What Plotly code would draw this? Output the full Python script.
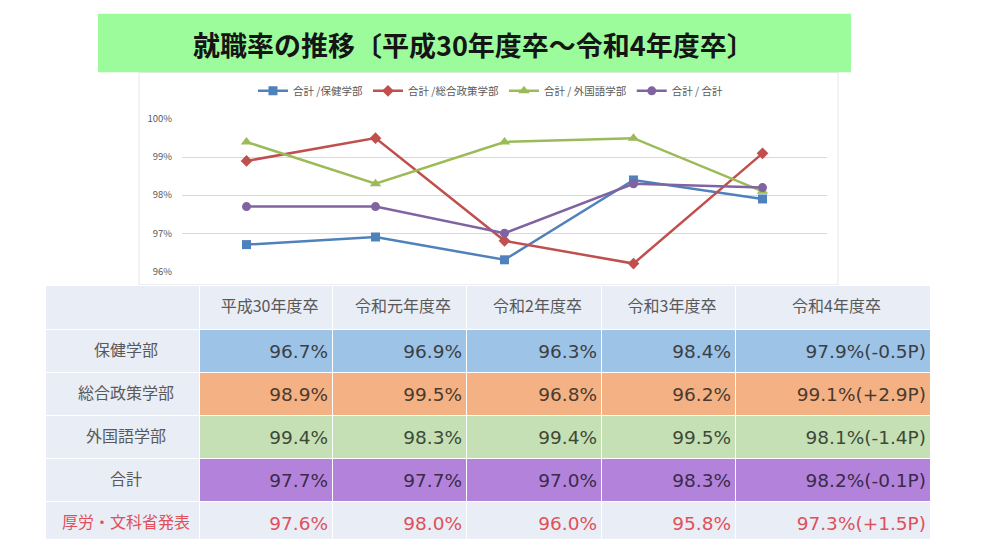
import plotly.graph_objects as go

W, H = 991, 556

years = ["平成30年度卒", "令和元年度卒", "令和2年度卒", "令和3年度卒", "令和4年度卒"]
hoken = [96.7, 96.9, 96.3, 98.4, 97.9]
sogo = [98.9, 99.5, 96.8, 96.2, 99.1]
gaikoku = [99.4, 98.3, 99.4, 99.5, 98.1]
gokei = [97.7, 97.7, 97.0, 98.3, 98.2]
kourou = [97.6, 98.0, 96.0, 95.8, 97.3]
diffs = ["-0.5P", "+2.9P", "-1.4P", "-0.1P", "+1.5P"]

row_labels = ["保健学部", "総合政策学部", "外国語学部", "合計", "厚労・文科省発表"]
legend_names = ["合計 /保健学部", "合計 /総合政策学部", "合計 / 外国語学部", "合計 / 合計"]
y_ticks = [96, 97, 98, 99, 100]
title = "就職率の推移〔平成30年度卒～令和4年度卒〕"

line_colors = ["#4F81BD", "#C0504D", "#9BBB59", "#8064A2"]
symbols = ["square", "diamond", "triangle-up", "circle"]
marker_sizes = [9, 9, 10, 9]
row_fills = ["#9DC3E6", "#F4B183", "#C5E0B4", "#B383DB", "#E9EDF6"]
row_text = ["#3a3f47", "#4a3a30", "#3d4a38", "#3b2a4a", "#E0505A"]
bg = "#E9EDF6"

JP = "Noto Sans CJK JP"
NUM = "DejaVu Sans"

def px(x):
    return x / W

def py(y):
    return 1 - y / H

fig = go.Figure()

series = [hoken, sogo, gaikoku, gokei]
for name, vals, c, s, ms in zip(legend_names, series, line_colors, symbols, marker_sizes):
    fig.add_trace(go.Scatter(
        x=list(range(len(years))), y=vals, name=name, mode="lines+markers",
        line=dict(color=c, width=2.5), marker=dict(symbol=s, size=ms, color=c),
        cliponaxis=False,
    ))

# table content
all_rows = [hoken, sogo, gaikoku, gokei, kourou]
cols = [row_labels]
for j in range(len(years)):
    col = []
    for i, r in enumerate(all_rows):
        t = f"{r[j]:.1f}%"
        if j == len(years) - 1:
            t += f"({diffs[i]})"
        col.append(t)
    cols.append(col)

col_widths = [154, 133, 134, 135, 134, 195]
fill_cols = [[bg] * 5] + [row_fills[:] for _ in years]
font_cols = [["#595959"] * 4 + ["#E0505A"]] + [row_text[:] for _ in years]
family_cols = [JP] + [NUM] * len(years)
size_cols = [16] + [18.5] * len(years)

# background cells (fills + white grid)
fig.add_trace(go.Table(
    domain=dict(x=[px(45), px(930)], y=[py(545), py(285)]),
    columnwidth=col_widths,
    header=dict(values=[""] * len(col_widths), fill_color=bg,
                line=dict(color="white", width=1), height=44),
    cells=dict(values=[[""] * 5 for _ in col_widths], fill_color=fill_cols,
               line=dict(color="white", width=1), height=43),
    hoverinfo="skip",
))

# text layer (vertically centred in the cells)
fig.add_trace(go.Table(
    domain=dict(x=[px(49), px(934)], y=[py(553), py(291)]),
    columnwidth=col_widths,
    header=dict(values=[""] + years, fill_color="rgba(0,0,0,0)", align="center",
                line=dict(color="rgba(0,0,0,0)", width=0), height=44,
                font=dict(family=JP, size=16, color="#595959")),
    cells=dict(values=cols, fill_color="rgba(0,0,0,0)", align=["center"] + ["right"] * 5,
               line=dict(color="rgba(0,0,0,0)", width=0), height=43,
               font=dict(family=family_cols, size=size_cols, color=font_cols)),
))

fig.update_layout(
    width=W, height=H, margin=dict(l=0, r=0, t=0, b=0),
    paper_bgcolor="white", plot_bgcolor="white",
    font=dict(family=JP),
    showlegend=True,
    legend=dict(orientation="h", x=px(491), xanchor="center", y=py(85), yanchor="middle",
                font=dict(size=10.5, color="#595959", family=JP),
                itemwidth=30, bgcolor="rgba(0,0,0,0)"),
    xaxis=dict(domain=[px(182), px(827)], range=[-0.5, 4.5], showticklabels=False,
               showgrid=False, zeroline=False, fixedrange=True),
    yaxis=dict(domain=[py(270), py(114)], range=[96, 100], tickvals=y_ticks,
               ticktext=[f"{v}%" for v in y_ticks], showgrid=True, gridcolor="#D9D9D9",
               gridwidth=1, zeroline=False, tickfont=dict(size=9.5, color="#595959"),
               ticks="", ticklabelstandoff=9),
    shapes=[
        dict(type="rect", xref="paper", yref="paper", x0=px(139), x1=px(838), y0=py(284), y1=py(66),
             line=dict(color="#E6E6E6", width=1), fillcolor="rgba(0,0,0,0)", layer="below"),
        dict(type="rect", xref="paper", yref="paper", x0=px(98), x1=px(851), y0=py(66), y1=py(6),
             line=dict(width=0), fillcolor="#9CFC9C", layer="below"),
    ],
    annotations=[
        dict(text=f"<b>{title}</b>", xref="paper", yref="paper", x=px(473), y=py(37),
             xanchor="center", yanchor="middle", showarrow=False,
             font=dict(family=JP, size=27, color="#151515")),
    ],
)

fig.write_html("out.html")
